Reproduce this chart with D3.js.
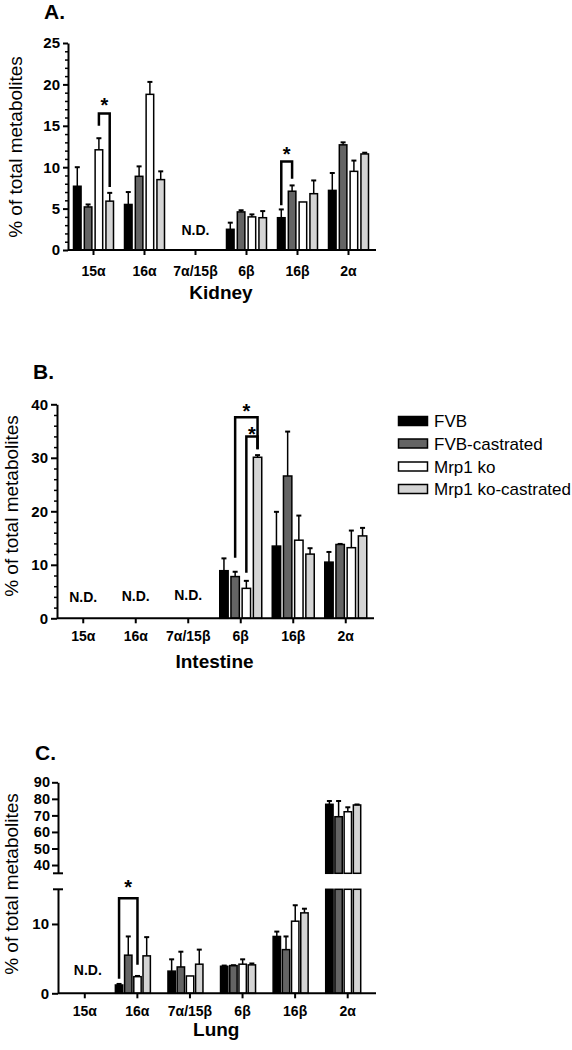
<!DOCTYPE html>
<html><head><meta charset="utf-8">
<script src="https://cdn.jsdelivr.net/npm/d3@7"></script>
<style>
body{margin:0;background:#fff}
text{font-family:"Liberation Sans",Arial,Helvetica,sans-serif}
</style>
</head><body>
<svg id="chart" width="572" height="1050"></svg>
<script>
// ---------- data ----------
const categories = ["15α", "16α", "7α/15β", "6β", "16β", "2α"];
const series = ["FVB", "FVB-castrated", "Mrp1 ko", "Mrp1 ko-castrated"];
const seriesColors = ["#000000", "#646464", "#ffffff", "#d4d4d4"];

// Kidney (null = N.D.)
const kidneyMean = [[7.7, 5.2, 12.1, 5.9], [5.5, 8.9, 18.8, 8.5], null, [2.5, 4.6, 4.0, 3.9], [3.9, 7.1, 5.8, 6.8], [7.2, 12.7, 9.5, 11.6]];
const kidneyErr  = [[2.3, 0.3, 1.4, 1.0], [1.5, 1.2, 1.5, 1.0], null, [0.8, 0.2, 0.3, 0.8], [1.0, 0.7, 0, 1.6], [2.1, 0.3, 1.3, 0.15]];
// Intestine
const intestineMean = [null, null, null, [8.9, 7.8, 5.6, 30.1], [13.5, 26.6, 14.6, 12.0], [10.5, 13.8, 13.2, 15.4]];
const intestineErr  = [null, null, null, [2.3, 0.9, 1.4, 0.4], [6.4, 8.3, 4.6, 1.1], [1.9, 0.1, 3.2, 1.5]];
// Lung
const lungMean = [null, [1.2, 5.5, 2.4, 5.4], [3.2, 3.8, 2.5, 4.2], [3.9, 4.0, 4.2, 4.1], [8.2, 6.3, 10.4, 11.6], [76.7, 69.2, 72.2, 76.3]];
const lungErr  = [null, [0.15, 2.7, 0.1, 2.7], [1.7, 2.2, 0, 2.1], [0.1, 0.05, 0.7, 0.2], [0.7, 1.9, 2.3, 0.6], [2.0, 9.5, 2.7, 0.3]];

const kidneyTicks = [0, 5, 10, 15, 20, 25];
const intestineTicks = [0, 10, 20, 30, 40];
const lungLowTicks = [0, 10];
const lungHighTicks = [40, 50, 60, 70, 80, 90];
const lungBreak = [15, 35];

const panelLetters = ["A.", "B.", "C."];
const tissueNames = ["Kidney", "Intestine", "Lung"];
const yTitle = "% of total metabolites";

// significance brackets: category, from-series index, to-series index, top value, left leg end, right leg end
const kidneyBrackets = [
  {cat: "15α", from: 2, to: 3, top: 16.5, left: 15.0, right: 7.6},
  {cat: "16β", from: 0, to: 1, top: 10.7, left: 5.4, right: 8.6}
];
const intestineBrackets = [
  {cat: "6β", from: 1, to: 3, top: 37.6, left: 11.3, right: 31.6},
  {cat: "6β", from: 2, to: 3, top: 34.0, left: 8.5, right: 31.6}
];
const lungBrackets = [
  {cat: "16α", from: 0, to: 2, top: 13.7, left: 2.1, right: 4.1}
];
// layout only: vertical gap (px) between bracket top and star centre
const starGaps = {A: [12, 11], B: [10, 6], C: [15]};

// ---------- drawing ----------
const svg = d3.select("#chart");

function styleAxis(g) {
  g.select(".domain").attr("stroke", "#000").attr("stroke-width", 2);
  g.selectAll(".tick line").attr("stroke", "#000").attr("stroke-width", 2);
  g.selectAll(".tick text").attr("fill", "#000").attr("font-weight", "bold");
}

function drawPanel(cfg) {
  const g = svg.append("g");
  const x = d3.scaleBand().domain(categories).range(cfg.xRange);
  const xs = d3.scaleBand().domain(series).range([-cfg.groupW / 2, cfg.groupW / 2]).paddingInner(cfg.pad);
  const y = cfg.y;
  const base = cfg.zeroY;
  const bx = (ci, si) => x(categories[ci]) + x.bandwidth() / 2 + cfg.offset + xs(series[si]);

  // bars
  categories.forEach((c, ci) => {
    const m = cfg.mean[ci];
    if (!m) {
      g.append("text")
        .attr("x", x(c) + x.bandwidth() / 2 + (cfg.ndDx || 0))
        .attr("y", cfg.ndY[ci])
        .attr("text-anchor", "middle")
        .attr("font-size", 14).attr("font-weight", "bold")
        .text("N.D.");
      return;
    }
    m.forEach((v, si) => {
      const x0 = bx(ci, si);
      const w = xs.bandwidth();
      const e = cfg.err[ci][si];
      if (cfg.broken && v > lungBreak[0]) {
        g.append("rect").attr("x", x0).attr("width", w)
          .attr("y", cfg.yLow(lungBreak[0])).attr("height", base - cfg.yLow(lungBreak[0]))
          .attr("fill", seriesColors[si]).attr("stroke", "#000").attr("stroke-width", 1.5);
        g.append("rect").attr("x", x0).attr("width", w)
          .attr("y", cfg.yHigh(v)).attr("height", cfg.yHigh(lungBreak[1]) - cfg.yHigh(v))
          .attr("fill", seriesColors[si]).attr("stroke", "#000").attr("stroke-width", 1.5);
      } else {
        g.append("rect").attr("x", x0).attr("width", w)
          .attr("y", y(v)).attr("height", base - y(v))
          .attr("fill", seriesColors[si]).attr("stroke", "#000").attr("stroke-width", 1.5);
      }
      if (e > 0) {
        const cx = x0 + w / 2;
        g.append("line").attr("x1", cx).attr("x2", cx).attr("y1", y(v)).attr("y2", y(v + e))
          .attr("stroke", "#000").attr("stroke-width", 1.5);
        g.append("line").attr("x1", cx - 2.5).attr("x2", cx + 2.5).attr("y1", y(v + e)).attr("y2", y(v + e))
          .attr("stroke", "#000").attr("stroke-width", 2);
      }
    });
  });

  // brackets
  cfg.brackets.forEach((b, bi) => {
    const ci = categories.indexOf(b.cat);
    const xl = bx(ci, b.from) + xs.bandwidth() / 2;
    const xr = bx(ci, b.to) + xs.bandwidth() / 2;
    const yt = y(b.top);
    g.append("path")
      .attr("d", `M${xl},${y(b.left)}V${yt}H${xr}V${y(b.right)}`)
      .attr("fill", "none").attr("stroke", "#000").attr("stroke-width", 2.5);
    const starCenter = yt - cfg.starGaps[bi];
    g.append("text").attr("x", (xl + xr) / 2).attr("y", starCenter + 11)
      .attr("text-anchor", "middle").attr("font-size", 20).attr("font-weight", "bold")
      .text("*");
  });

  // x axis
  const xa = g.append("g").attr("transform", `translate(0,${base})`)
    .call(d3.axisBottom(x).tickSize(5).tickSizeOuter(0).tickPadding(cfg.xPad));
  styleAxis(xa);
  xa.selectAll(".tick text").attr("font-size", 14);
  xa.select(".domain").attr("d", `M${cfg.yAxisX},0H${cfg.xRange[1] + 2}`);

  // titles
  g.append("text").attr("x", (cfg.xRange[0] + cfg.xRange[1]) / 2).attr("y", cfg.titleY)
    .attr("text-anchor", "middle").attr("font-size", 19).attr("font-weight", "bold").text(cfg.title);
  g.append("text").attr("x", cfg.letterX).attr("y", cfg.letterY)
    .attr("font-size", 21).attr("font-weight", "bold").text(cfg.letter);
  g.append("text").attr("transform", `translate(${cfg.yTitleX},${cfg.yTitleY}) rotate(-90)`)
    .attr("text-anchor", "middle").attr("font-size", 19).text(yTitle);
  return g;
}

// ---- Panel A: Kidney ----
const yA = d3.scaleLinear().domain([0, 25]).range([250, 43]);
const gA = drawPanel({
  xRange: [68, 374], groupW: 40, pad: 0.3, offset: 0, y: yA, zeroY: 250, xPad: 11,
  mean: kidneyMean, err: kidneyErr, brackets: kidneyBrackets, starGaps: starGaps.A, ndY: [0, 0, 235],
  yAxisX: 68, title: tissueNames[0], titleY: 299, letter: panelLetters[0], letterX: 44, letterY: 19,
  yTitleX: 22, yTitleY: 147
});
{
  const ya = gA.append("g").attr("transform", "translate(68,0)")
    .call(d3.axisLeft(yA).tickValues(kidneyTicks).tickSize(5).tickSizeOuter(0).tickPadding(3));
  styleAxis(ya); ya.selectAll(".tick text").attr("font-size", 15);
  gA.append("g").attr("transform", "translate(68,0)")
    .call(d3.axisLeft(yA).tickValues(d3.range(0, 26, 1).filter(v => v % 5)).tickSize(3).tickFormat(""))
    .call(s => { s.select(".domain").remove(); s.selectAll("line").attr("stroke", "#000").attr("stroke-width", 1.5); });
}

// ---- Panel B: Intestine ----
const yB = d3.scaleLinear().domain([0, 40]).range([618.3, 404.3]);
const gB = drawPanel({
  xRange: [57, 372], groupW: 42, pad: 0.25, offset: 0, y: yB, zeroY: 618.3, xPad: 8,
  mean: intestineMean, err: intestineErr, brackets: intestineBrackets, starGaps: starGaps.B, ndY: [602, 601, 600],
  yAxisX: 57, title: tissueNames[1], titleY: 668, letter: panelLetters[1], letterX: 33, letterY: 379,
  yTitleX: 18, yTitleY: 506
});
{
  const ya = gB.append("g").attr("transform", "translate(57,0)")
    .call(d3.axisLeft(yB).tickValues(intestineTicks).tickSize(6).tickSizeOuter(0).tickPadding(3));
  styleAxis(ya); ya.selectAll(".tick text").attr("font-size", 15);
  gB.append("g").attr("transform", "translate(57,0)")
    .call(d3.axisLeft(yB).tickValues(d3.range(0, 41, 2).filter(v => v % 10)).tickSize(3).tickFormat(""))
    .call(s => { s.select(".domain").remove(); s.selectAll("line").attr("stroke", "#000").attr("stroke-width", 1.5); });
}

// legend
{
  const lg = svg.append("g").attr("transform", "translate(398,0)");
  const rowY = [421, 443.5, 466.5, 489];
  series.forEach((s, i) => {
    lg.append("rect").attr("x", 0.5).attr("y", rowY[i] - 4.5).attr("width", 29).attr("height", 9)
      .attr("fill", seriesColors[i]).attr("stroke", "#000").attr("stroke-width", 1.5);
    lg.append("text").attr("x", 36).attr("y", rowY[i] + 6).attr("font-size", 17).text(s);
  });
}

// ---- Panel C: Lung (broken axis) ----
const yCLow = d3.scaleLinear().domain([0, 15]).range([993.3, 889.3]);
const yCHigh = d3.scaleLinear().domain([35, 90]).range([873.3, 782.3]);
const yC = v => v <= lungBreak[0] ? yCLow(v) : yCHigh(v);
const gC = drawPanel({
  xRange: [58.5, 374], groupW: 35, pad: 0.2, offset: -4.5, y: yC, yLow: yCLow, yHigh: yCHigh, broken: true,
  zeroY: 993.3, xPad: 8,
  mean: lungMean, err: lungErr, brackets: lungBrackets, starGaps: starGaps.C, ndY: [974.5], ndDx: 3,
  yAxisX: 58, title: tissueNames[2], titleY: 1036, letter: panelLetters[2], letterX: 35, letterY: 760,
  yTitleX: 18, yTitleY: 884
});
{
  const yl = gC.append("g").attr("transform", "translate(58,0)")
    .call(d3.axisLeft(yCLow).tickValues(lungLowTicks).tickSize(6).tickSizeOuter(0).tickPadding(3));
  styleAxis(yl); yl.selectAll(".tick text").attr("font-size", 15);
  const yh = gC.append("g").attr("transform", "translate(58,0)")
    .call(d3.axisLeft(yCHigh).tickValues(lungHighTicks).tickSize(6).tickSizeOuter(0).tickPadding(2));
  styleAxis(yh); yh.selectAll(".tick text").attr("font-size", 14.5);
  [yCLow(lungBreak[0]), yCHigh(lungBreak[1])].forEach(yy => {
    gC.append("line").attr("x1", 53).attr("x2", 63).attr("y1", yy).attr("y2", yy)
      .attr("stroke", "#000").attr("stroke-width", 2);
  });
}
</script>
</body></html>
